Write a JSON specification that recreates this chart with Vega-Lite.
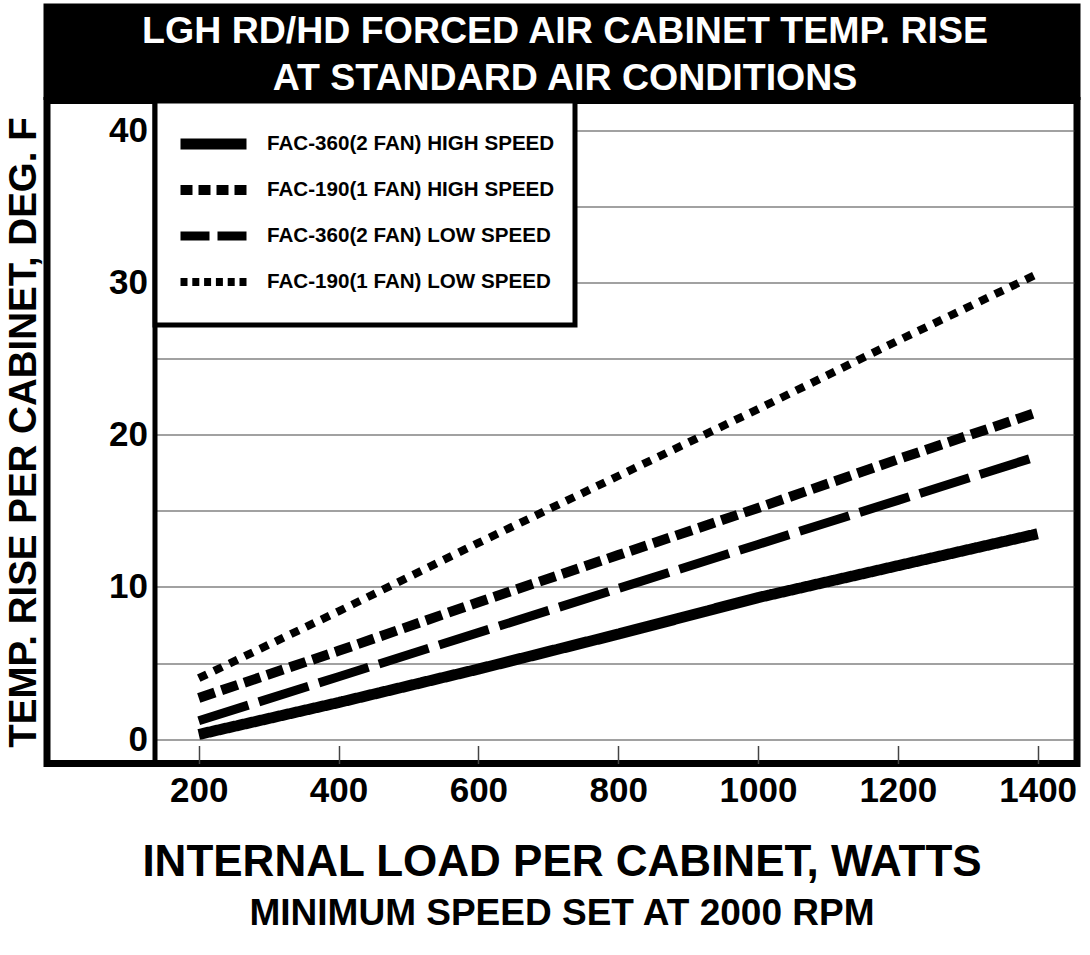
{
  "$schema": "https://vega.github.io/schema/vega-lite/v6.json",
  "padding": {"left": 0, "top": 3, "right": 5, "bottom": 5},
  "background": "white",
  "config": {"font": "Liberation Sans", "view": {"stroke": null}},
  "spacing": 3.5,
  "bounds": "flush",
  "vconcat": [
    {
      "width": 1030,
      "height": 89.5,
      "view": {"fill": "black", "stroke": "black", "strokeWidth": 7},
      "data": {"values": [{"t": "LGH RD/HD FORCED AIR CABINET TEMP. RISE\nAT STANDARD AIR CONDITIONS"}]},
      "mark": {"type": "text", "color": "white", "font": "Liberation Sans", "fontWeight": "bold", "fontSize": 37.5, "lineBreak": "\n", "lineHeight": 47, "baseline": "middle", "align": "center", "dy": -20, "dx": 3},
      "encoding": {"text": {"field": "t"}}
    },
    {
      "width": 1030,
      "height": 663,
      "view": {"stroke": "black", "strokeWidth": 7},
      "title": {
        "text": "INTERNAL LOAD PER CABINET, WATTS",
        "subtitle": "MINIMUM SPEED SET AT 2000 RPM",
        "orient": "bottom",
        "anchor": "middle",
        "font": "Liberation Sans",
        "subtitleFont": "Liberation Sans",
        "fontSize": 44,
        "subtitleFontSize": 37,
        "fontWeight": "bold",
        "subtitleFontWeight": "bold",
        "color": "black",
        "subtitleColor": "black",
        "offset": 32,
        "subtitlePadding": 11
      },
      "data": {"values": [
        {"series": "FAC-360(2 FAN) HIGH SPEED", "load": 200, "rise": 0.3},
        {"series": "FAC-360(2 FAN) HIGH SPEED", "load": 400, "rise": 2.4},
        {"series": "FAC-360(2 FAN) HIGH SPEED", "load": 600, "rise": 4.6},
        {"series": "FAC-360(2 FAN) HIGH SPEED", "load": 800, "rise": 6.9},
        {"series": "FAC-360(2 FAN) HIGH SPEED", "load": 1000, "rise": 9.3},
        {"series": "FAC-360(2 FAN) HIGH SPEED", "load": 1200, "rise": 11.4},
        {"series": "FAC-360(2 FAN) HIGH SPEED", "load": 1400, "rise": 13.5},
        {"series": "FAC-190(1 FAN) HIGH SPEED", "load": 200, "rise": 2.7},
        {"series": "FAC-190(1 FAN) HIGH SPEED", "load": 400, "rise": 5.8},
        {"series": "FAC-190(1 FAN) HIGH SPEED", "load": 600, "rise": 9.0},
        {"series": "FAC-190(1 FAN) HIGH SPEED", "load": 800, "rise": 12.1},
        {"series": "FAC-190(1 FAN) HIGH SPEED", "load": 1000, "rise": 15.2},
        {"series": "FAC-190(1 FAN) HIGH SPEED", "load": 1200, "rise": 18.4},
        {"series": "FAC-190(1 FAN) HIGH SPEED", "load": 1400, "rise": 21.5},
        {"series": "FAC-360(2 FAN) LOW SPEED", "load": 200, "rise": 1.2},
        {"series": "FAC-360(2 FAN) LOW SPEED", "load": 400, "rise": 4.1},
        {"series": "FAC-360(2 FAN) LOW SPEED", "load": 600, "rise": 7.0},
        {"series": "FAC-360(2 FAN) LOW SPEED", "load": 800, "rise": 9.9},
        {"series": "FAC-360(2 FAN) LOW SPEED", "load": 1000, "rise": 12.8},
        {"series": "FAC-360(2 FAN) LOW SPEED", "load": 1200, "rise": 15.7},
        {"series": "FAC-360(2 FAN) LOW SPEED", "load": 1400, "rise": 18.6},
        {"series": "FAC-190(1 FAN) LOW SPEED", "load": 200, "rise": 4.0},
        {"series": "FAC-190(1 FAN) LOW SPEED", "load": 400, "rise": 8.4},
        {"series": "FAC-190(1 FAN) LOW SPEED", "load": 600, "rise": 12.9},
        {"series": "FAC-190(1 FAN) LOW SPEED", "load": 800, "rise": 17.3},
        {"series": "FAC-190(1 FAN) LOW SPEED", "load": 1000, "rise": 21.7},
        {"series": "FAC-190(1 FAN) LOW SPEED", "load": 1200, "rise": 26.2},
        {"series": "FAC-190(1 FAN) LOW SPEED", "load": 1400, "rise": 30.6}
      ]},
      "mark": {"type": "line", "color": "black", "strokeCap": "butt", "strokeJoin": "miter"},
      "encoding": {
        "x": {
          "field": "load", "type": "quantitative",
          "scale": {"domain": [136, 1452], "range": [107, 1027], "nice": false, "zero": false},
          "axis": {
            "title": null,
            "values": [200, 400, 600, 800, 1000, 1200, 1400],
            "format": "d",
            "domain": false, "grid": false,
            "ticks": true, "tickSize": -18, "tickColor": "#444", "tickWidth": 1.5,
            "labelFont": "Liberation Sans", "labelFontSize": 35, "labelFontWeight": "bold", "labelColor": "black",
            "labelPadding": 28, "labelFlush": false, "labelOverlap": false
          }
        },
        "y": {
          "field": "rise", "type": "quantitative",
          "scale": {"domain": [-1.61, 42.0], "nice": false, "zero": false},
          "axis": {
            "title": "TEMP. RISE PER CABINET, DEG. F",
            "titleFont": "Liberation Sans", "titleFontSize": 38.5, "titleFontWeight": "bold", "titleColor": "black",
            "titleX": -119.5, "titleBaseline": "alphabetic", "titleAngle": -90, "titleAlign": "center",
            "values": [0, 5, 10, 15, 20, 25, 30, 35, 40],
            "labelExpr": "datum.value % 10 === 0 ? datum.label : ''",
            "offset": -107.5,
            "domain": true, "domainColor": "black", "domainWidth": 5,
            "ticks": false,
            "grid": true, "gridColor": "#444", "gridWidth": 1.2,
            "labelFont": "Liberation Sans", "labelFontSize": 35, "labelFontWeight": "bold", "labelColor": "black",
            "labelPadding": 7, "labelBaseline": "middle", "labelOverlap": false, "labelFlush": false
          }
        },
        "strokeDash": {
          "field": "series", "type": "nominal",
          "scale": {
            "domain": ["FAC-190(1 FAN) LOW SPEED", "FAC-360(2 FAN) LOW SPEED", "FAC-190(1 FAN) HIGH SPEED", "FAC-360(2 FAN) HIGH SPEED"],
            "range": [[9, 8], [52, 11], [17, 7], [1, 0]]
          },
          "legend": null
        },
        "strokeWidth": {
          "field": "series", "type": "ordinal",
          "scale": {
            "domain": ["FAC-360(2 FAN) HIGH SPEED", "FAC-190(1 FAN) HIGH SPEED", "FAC-360(2 FAN) LOW SPEED", "FAC-190(1 FAN) LOW SPEED"],
            "range": [11, 8, 11, 9]
          },
          "legend": {
            "orient": "none", "legendX": 108, "legendY": 94, "title": null, "direction": "vertical",
            "symbolType": "stroke", "symbolSize": 4356, "symbolStrokeColor": "black",
            "labelFont": "Liberation Sans", "labelFontSize": 20.6, "labelFontWeight": "bold", "labelColor": "black",
            "labelOffset": 15, "labelLimit": 400,
            "padding": 20, "strokeColor": "black", "fillColor": "white", "clipHeight": 46, "rowPadding": 0,
            "encode": {
              "legend": {"update": {"strokeWidth": {"value": 5}}},
              "symbols": {"update": {
                "stroke": {"value": "black"},
                "strokeDash": {"signal": "datum.value === 'FAC-190(1 FAN) HIGH SPEED' ? [12,6] : datum.value === 'FAC-360(2 FAN) LOW SPEED' ? [29,8] : datum.value === 'FAC-190(1 FAN) LOW SPEED' ? [7,4.8] : [1,0]"}
              }}
            }
          }
        }
      }
    }
  ]
}
